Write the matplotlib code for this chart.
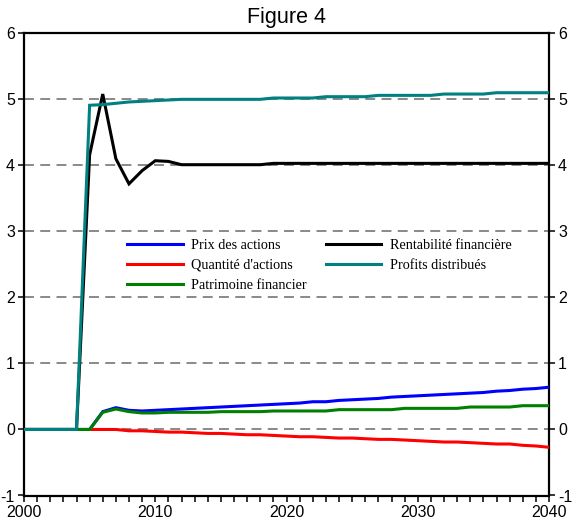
import matplotlib
matplotlib.use("Agg")
import matplotlib.pyplot as plt
from matplotlib.ticker import MultipleLocator
import numpy as np

years = np.arange(2000, 2041)

prix_actions = [0, 0, 0, 0, 0, 0, 0.27, 0.33, 0.29, 0.28, 0.29, 0.30, 0.31, 0.32, 0.33,
                0.34, 0.35, 0.36, 0.37, 0.38, 0.39, 0.40, 0.42, 0.42, 0.44, 0.45, 0.46,
                0.47, 0.49, 0.50, 0.51, 0.52, 0.53, 0.54, 0.55, 0.56, 0.58, 0.59, 0.61,
                0.62, 0.64]
quantite_actions = [0, 0, 0, 0, 0, 0, 0, 0, -0.02, -0.02, -0.03, -0.04, -0.04, -0.05,
                    -0.06, -0.06, -0.07, -0.08, -0.08, -0.09, -0.10, -0.11, -0.11, -0.12,
                    -0.13, -0.13, -0.14, -0.15, -0.15, -0.16, -0.17, -0.18, -0.19, -0.19,
                    -0.20, -0.21, -0.22, -0.22, -0.24, -0.25, -0.27]
patrimoine = [0, 0, 0, 0, 0, 0, 0.26, 0.31, 0.27, 0.25, 0.25, 0.26, 0.26, 0.26, 0.26,
              0.27, 0.27, 0.27, 0.27, 0.28, 0.28, 0.28, 0.28, 0.28, 0.30, 0.30, 0.30,
              0.30, 0.30, 0.32, 0.32, 0.32, 0.32, 0.32, 0.34, 0.34, 0.34, 0.34, 0.36,
              0.36, 0.36]
rentabilite = [0, 0, 0, 0, 0, 4.16, 5.08, 4.10, 3.72, 3.92, 4.07, 4.06, 4.01, 4.01, 4.01,
               4.01, 4.01, 4.01, 4.01, 4.03, 4.03, 4.03, 4.03, 4.03, 4.03, 4.03, 4.03,
               4.03, 4.03, 4.03, 4.03, 4.03, 4.03, 4.03, 4.03, 4.03, 4.03, 4.03, 4.03,
               4.03, 4.03]
profits = [0, 0, 0, 0, 0, 4.91, 4.92, 4.94, 4.96, 4.97, 4.98, 4.99, 5.00, 5.00, 5.00,
           5.00, 5.00, 5.00, 5.00, 5.02, 5.02, 5.02, 5.02, 5.04, 5.04, 5.04, 5.04,
           5.06, 5.06, 5.06, 5.06, 5.06, 5.08, 5.08, 5.08, 5.08, 5.10, 5.10, 5.10,
           5.10, 5.10]

labels = ["Prix des actions", "Quantité d'actions", "Patrimoine financier",
          "Rentabilité financière", "Profits distribués"]
colors = ["#0000FF", "#FF0000", "#008000", "#000000", "#008080"]
series = [prix_actions, quantite_actions, patrimoine, rentabilite, profits]

plt.rcParams["font.family"] = ["Liberation Sans", "DejaVu Sans"]
plt.rcParams["axes.unicode_minus"] = False

W, H = 584, 524
fig = plt.figure(figsize=(W / 100, H / 100), dpi=100)
ax = fig.add_axes([24 / W, 1 - 495.5 / H, (549 - 24) / W, (495.5 - 33.3) / H])

for yv in range(0, 6):
    ax.axhline(yv, color="#808080", lw=1.3, ls=(0, (5.5, 3.5)), zorder=1)

handles = []
for vals, col, lab in zip(series, colors, labels):
    h, = ax.plot(years, vals, color=col, lw=2.2, label=lab, zorder=3,
                 solid_joinstyle="miter")
    handles.append(h)

ax.set_xlim(2000, 2040)
ax.set_ylim(-1, 6)
ax.xaxis.set_major_locator(MultipleLocator(10))
ax.xaxis.set_minor_locator(MultipleLocator(1))
ax.yaxis.set_major_locator(MultipleLocator(1))

for sp in ax.spines.values():
    sp.set_linewidth(1.6)

ax.tick_params(axis="both", which="both", direction="out", length=4.5, width=1.1,
               labelsize=11.5, colors="black")
ax.tick_params(axis="y", right=True, labelright=True, pad=2)
ax.tick_params(axis="x", pad=2)

fig.text(0.5 * (24 + 549) / W, 1 - 17 / H, "Figure 4", ha="center", va="center",
         fontsize=15.5, family=["Liberation Sans", "DejaVu Sans"])

leg = ax.legend(handles=handles, ncol=2, frameon=False,
                loc="upper left", bbox_to_anchor=(127 / W, 1 - 238.5 / H),
                bbox_transform=fig.transFigure, borderpad=0, borderaxespad=0,
                handlelength=3.95, handletextpad=0.6, columnspacing=1.3,
                labelspacing=0.52,
                prop={"family": ["Liberation Serif", "DejaVu Serif"], "size": 10.2})

fig.savefig("out.png", dpi=100)
